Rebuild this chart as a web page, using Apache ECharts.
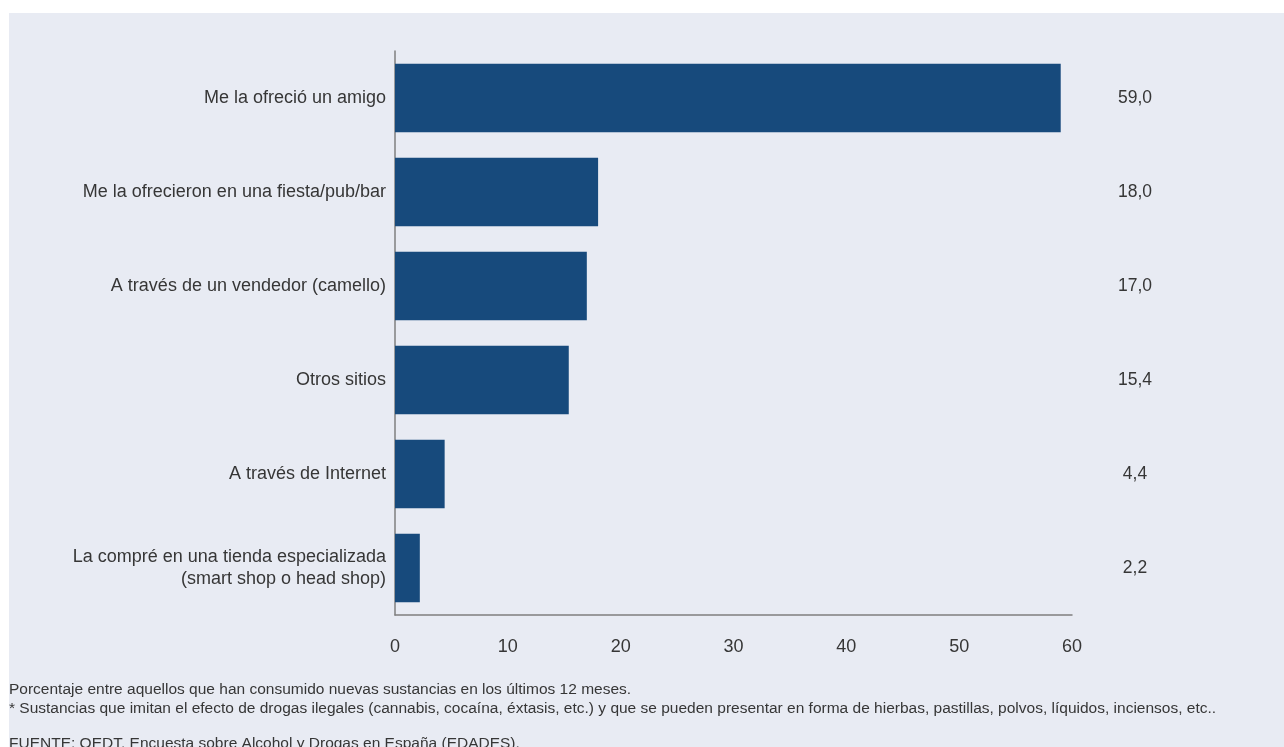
<!DOCTYPE html>
<html>
<head>
<meta charset="utf-8">
<script src="https://cdn.jsdelivr.net/npm/echarts@6/dist/echarts.min.js"></script>
<style>
html,body{margin:0;padding:0;background:#ffffff;}
#c{position:absolute;left:9px;top:13px;width:1275px;height:734px;background:#e8ebf3;}
</style>
</head>
<body>
<div id="c"></div>
<script>
var categories = [
  "Me la ofreció un amigo",
  "Me la ofrecieron en una fiesta/pub/bar",
  "A través de un vendedor (camello)",
  "Otros sitios",
  "A través de Internet",
  "La compré en una tienda especializada\n(smart shop o head shop)"
];
var values = [59.0, 18.0, 17.0, 15.4, 4.4, 2.2];
var xTicks = [0, 10, 20, 30, 40, 50, 60];
var notes = [
  "Porcentaje entre aquellos que han consumido nuevas sustancias en los últimos 12 meses.",
  "* Sustancias que imitan el efecto de drogas ilegales (cannabis, cocaína, éxtasis, etc.) y que se pueden presentar en forma de hierbas, pastillas, polvos, líquidos, inciensos, etc..",
  "FUENTE: OEDT. Encuesta sobre Alcohol y Drogas en España (EDADES)."
];

var chart = echarts.init(document.getElementById('c'), null, {renderer:'canvas'});
var font = '"Liberation Sans", Arial, Helvetica, sans-serif';
var txt = '#363636';
chart.setOption({
  backgroundColor: 'transparent',
  animation: false,
  textStyle: {fontFamily: font},
  grid: {left: 386, right: 212, top: 38, bottom: 132, containLabel: false},
  xAxis: {
    type: 'value', min: xTicks[0], max: xTicks[xTicks.length-1], interval: 10,
    axisLine: {show: true, lineStyle: {color: '#7f7f7f', width: 1.5}},
    axisTick: {show: false},
    splitLine: {show: false},
    axisLabel: {color: txt, fontSize: 18, margin: 23, fontFamily: font}
  },
  yAxis: [{
    type: 'category', data: categories, inverse: true,
    axisLine: {show: true, lineStyle: {color: '#7f7f7f', width: 1.5}},
    axisTick: {show: false},
    axisLabel: {color: txt, fontSize: 18, margin: 9, fontFamily: font, align: 'right', lineHeight: 22}
  }, {
    type: 'category', data: values.map(function(v){return v.toFixed(1).replace('.', ',');}),
    inverse: true, position: 'right',
    axisLine: {show: false}, axisTick: {show: false},
    axisLabel: {color: txt, fontSize: 17.5, margin: 63, align: 'center', fontFamily: font}
  }],
  series: [{
    type: 'bar', data: values, yAxisIndex: 0,
    barCategoryGap: '27%',
    itemStyle: {color: '#174a7c'}
  }],
  graphic: [
    {type: 'text', left: 0, top: 669, style: {text: notes[0], fill: txt, font: '15.5px ' + font}},
    {type: 'text', left: 0, top: 688, style: {text: notes[1], fill: txt, font: '15.5px ' + font}},
    {type: 'text', left: 0, top: 723, style: {text: notes[2], fill: txt, font: '15.5px ' + font}}
  ]
});
</script>
</body>
</html>
